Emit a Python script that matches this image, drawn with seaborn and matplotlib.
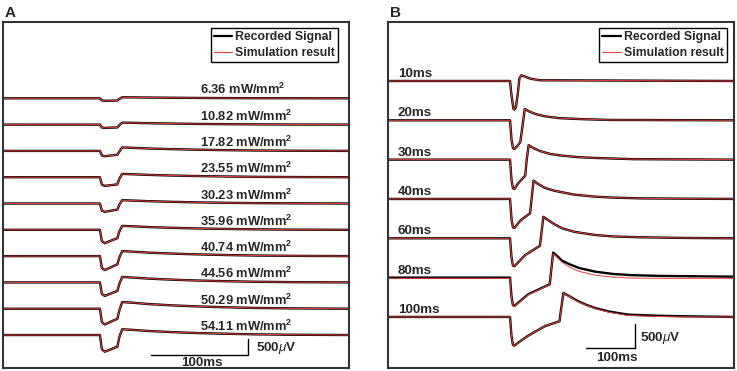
import numpy as np
import matplotlib
matplotlib.use("Agg")
import matplotlib.pyplot as plt
from matplotlib.lines import Line2D
import seaborn as sns

# ---------------- data ----------------
# Panel A: light intensity series (mW/mm^2); traces in microvolts vs time (ms)
a_labels = ["6.36", "10.82", "17.82", "23.55", "30.23",
            "35.96", "40.74", "44.56", "50.29", "54.11"]
a_time = [0, 100, 102, 105, 118, 120, 123, 135, 150, 175, 200, 230, 260, 300, 357]
a_636 = [0, 0, -70, -83, -73, -20, 33, 30, 25, 18, 12, 7, 4, 2, 0]
a_1082 = [0, 0, -95, -110, -93, -20, 66, 58, 46, 34, 23, 14, 8, 3, 0]
a_1782 = [0, 0, -150, -175, -125, -25, 115, 100, 80, 58, 40, 25, 14, 6, 0]
a_2355 = [0, 0, -245, -287, -237, -50, 110, 96, 77, 55, 38, 24, 13, 5, 0]
a_3023 = [0, 0, -235, -275, -200, -40, 110, 96, 77, 55, 38, 24, 13, 5, 0]
a_3596 = [0, 0, -375, -440, -275, -55, 130, 115, 91, 65, 45, 29, 16, 6, 0]
a_4074 = [0, 0, -390, -460, -270, -50, 165, 145, 115, 83, 58, 36, 20, 8, 0]
a_4456 = [0, 0, -380, -445, -280, -50, 180, 158, 126, 90, 63, 40, 22, 9, 0]
a_5029 = [0, 0, -440, -520, -330, -60, 220, 195, 154, 110, 77, 48, 26, 11, 0]
a_5411 = [0, 0, -470, -550, -385, -70, 190, 168, 133, 95, 66, 42, 23, 9, 0]

# Panel B: pulse-duration series
b_labels = ["10ms", "20ms", "30ms", "40ms", "60ms", "80ms", "100ms"]
b10_t = [0, 249, 252, 256, 258, 261, 265, 268, 272, 280, 290, 310, 706]
b10_v = [0, 0, -300, -580, -595, -540, -250, 50, 119, 90, 50, 15, 0]
b20_t = [0, 249, 252, 255, 258, 265, 270, 276, 279, 288, 300, 320, 350, 388, 450, 706]
b20_v = [0, 0, -400, -580, -597, -520, -450, 0, 235, 185, 135, 83, 45, 27, 8, 0]
b30_t = [0, 249, 252, 255, 258, 265, 280, 283, 287, 295, 310, 330, 355, 390, 423, 500, 706]
b30_v = [0, 0, -420, -595, -610, -500, -333, 0, 300, 250, 180, 120, 83, 50, 35, 10, 0]
b40_t = [0, 249, 252, 255, 258, 270, 290, 293, 297, 305, 320, 340, 380, 422, 460, 520, 706]
b40_v = [0, 0, -420, -590, -603, -450, -297, 0, 381, 320, 230, 170, 90, 48, 28, 12, 0]
b60_t = [0, 249, 252, 255, 258, 280, 310, 313, 317, 325, 340, 355, 380, 422, 460, 514, 600, 706]
b60_v = [0, 0, -400, -570, -582, -347, -156, 100, 447, 390, 290, 208, 135, 69, 38, 21, 8, 0]
b80_t = [0, 249, 252, 255, 258, 286, 330, 333, 337, 345, 355, 370, 390, 422, 460, 500, 558, 706]
b80_v = [0, 0, -400, -575, -589, -347, -139, 150, 520, 450, 354, 280, 200, 125, 75, 50, 35, 20]
b80_sim = [-15, -15, -410, -585, -600, -355, -145, 140, 500, 420, 320, 220, 130, 52, 10, -10, -15, -15]
b100_t = [0, 249, 252, 255, 258, 265, 286, 320, 350, 353, 358, 370, 388, 405, 422, 450, 490, 550, 600, 706]
b100_v = [0, 0, -400, -580, -597, -540, -389, -193, -89, 150, 500, 430, 327, 250, 187, 115, 48, 25, 15, 0]
b100_sim = [0, 0, -400, -580, -597, -540, -389, -193, -89, 150, 500, 425, 320, 240, 175, 100, 30, 10, 3, 0]

legend_labels = ["Recorded Signal", "Simulation result"]

# ---------------- style ----------------
sns.set_theme(style="white")
plt.rcParams["font.family"] = ["Liberation Sans", "DejaVu Sans"]
plt.rcParams["mathtext.fontset"] = "custom"
plt.rcParams["mathtext.rm"] = "Liberation Sans"
plt.rcParams["mathtext.bf"] = "Liberation Sans:bold"
plt.rcParams["mathtext.it"] = "Liberation Sans:italic"

REC = "black"
SIM = "#e8413c"
FS = 9.3
FSB = 9.6
FSL = 8.8

fig = plt.figure(figsize=(7.37, 3.71), dpi=100)
axA = fig.add_axes([3 / 737, 3 / 371, 346 / 737, 346 / 371])
axB = fig.add_axes([388 / 737, 3 / 371, 346 / 737, 346 / 371])


def draw(ax, t, v, base, sim=None):
    t = np.asarray(t, float)
    y = base + np.asarray(v, float)
    ys = y if sim is None else base + np.asarray(sim, float)
    sns.lineplot(x=t, y=y, ax=ax, color=REC, lw=1.7, sort=False,
                 estimator=None, legend=False)
    sns.lineplot(x=t, y=ys, ax=ax, color=SIM, lw=0.7, sort=False,
                 estimator=None, legend=False)


# ---- Panel A ----
a_traces = [a_636, a_1082, a_1782, a_2355, a_3023,
            a_3596, a_4074, a_4456, a_5029, a_5411]
for i, (lab, v) in enumerate(zip(a_labels, a_traces)):
    base = 8900 - 868 * i
    draw(axA, a_time, v, base)
    axA.text(203, base + 130, lab + r" mW/mm$^{\mathbf{2}}$", fontsize=FS,
             fontweight="bold", ha="left", va="baseline")
axA.set_xlim(0, 357)
axA.set_ylim(0, 11418)
# scale bar
axA.plot([153, 253, 253], [445, 445, 945], color="black", lw=1.0)
axA.text(261, 660, r"500$\mu$V", fontsize=FSB, fontweight="bold",
         ha="left", va="center")
axA.text(205, 150, "100ms", fontsize=FSB, fontweight="bold",
         ha="center", va="center")

# ---- Panel B ----
b_traces = [(b10_t, b10_v, None), (b20_t, b20_v, None), (b30_t, b30_v, None),
            (b40_t, b40_v, None), (b60_t, b60_v, None),
            (b80_t, b80_v, b80_sim), (b100_t, b100_v, b100_sim)]
for i, (lab, (t, v, s)) in enumerate(zip(b_labels, b_traces)):
    base = 5970 - 818 * i
    draw(axB, t, v, base, s)
    axB.text(20, base + 83, lab, fontsize=FSB, fontweight="bold",
             ha="left", va="baseline")
axB.set_xlim(0, 706)
axB.set_ylim(0, 7197)
axB.plot([404, 504, 504], [410, 410, 910], color="black", lw=1.0)
axB.text(514, 630, r"500$\mu$V", fontsize=FSB, fontweight="bold",
         ha="left", va="center")
axB.text(467, 205, "100ms", fontsize=FSB, fontweight="bold",
         ha="center", va="center")

handles = [Line2D([], [], color=REC, lw=1.6), Line2D([], [], color=SIM, lw=0.8)]
for ax, right in ((axA, 0.968), (axB, 0.979)):
    ax.set_xticks([])
    ax.set_yticks([])
    for sp in ax.spines.values():
        sp.set_visible(True)
        sp.set_color("#333333")
        sp.set_linewidth(1.5)
    leg = ax.legend(handles, legend_labels, loc="upper right",
                    bbox_to_anchor=(right, 0.983), borderaxespad=0,
                    fancybox=False, framealpha=1, edgecolor="black",
                    prop={"weight": "bold", "size": FSL},
                    handlelength=1.5, handletextpad=0.25, borderpad=0.25,
                    labelspacing=0.35)
    leg.get_frame().set_linewidth(1.0)

fig.text(5 / 737, 1 - 17 / 371, "A", fontsize=11, fontweight="bold",
         ha="left", va="baseline")
fig.text(390 / 737, 1 - 17 / 371, "B", fontsize=11, fontweight="bold",
         ha="left", va="baseline")

fig.savefig("out.png", dpi=100)
